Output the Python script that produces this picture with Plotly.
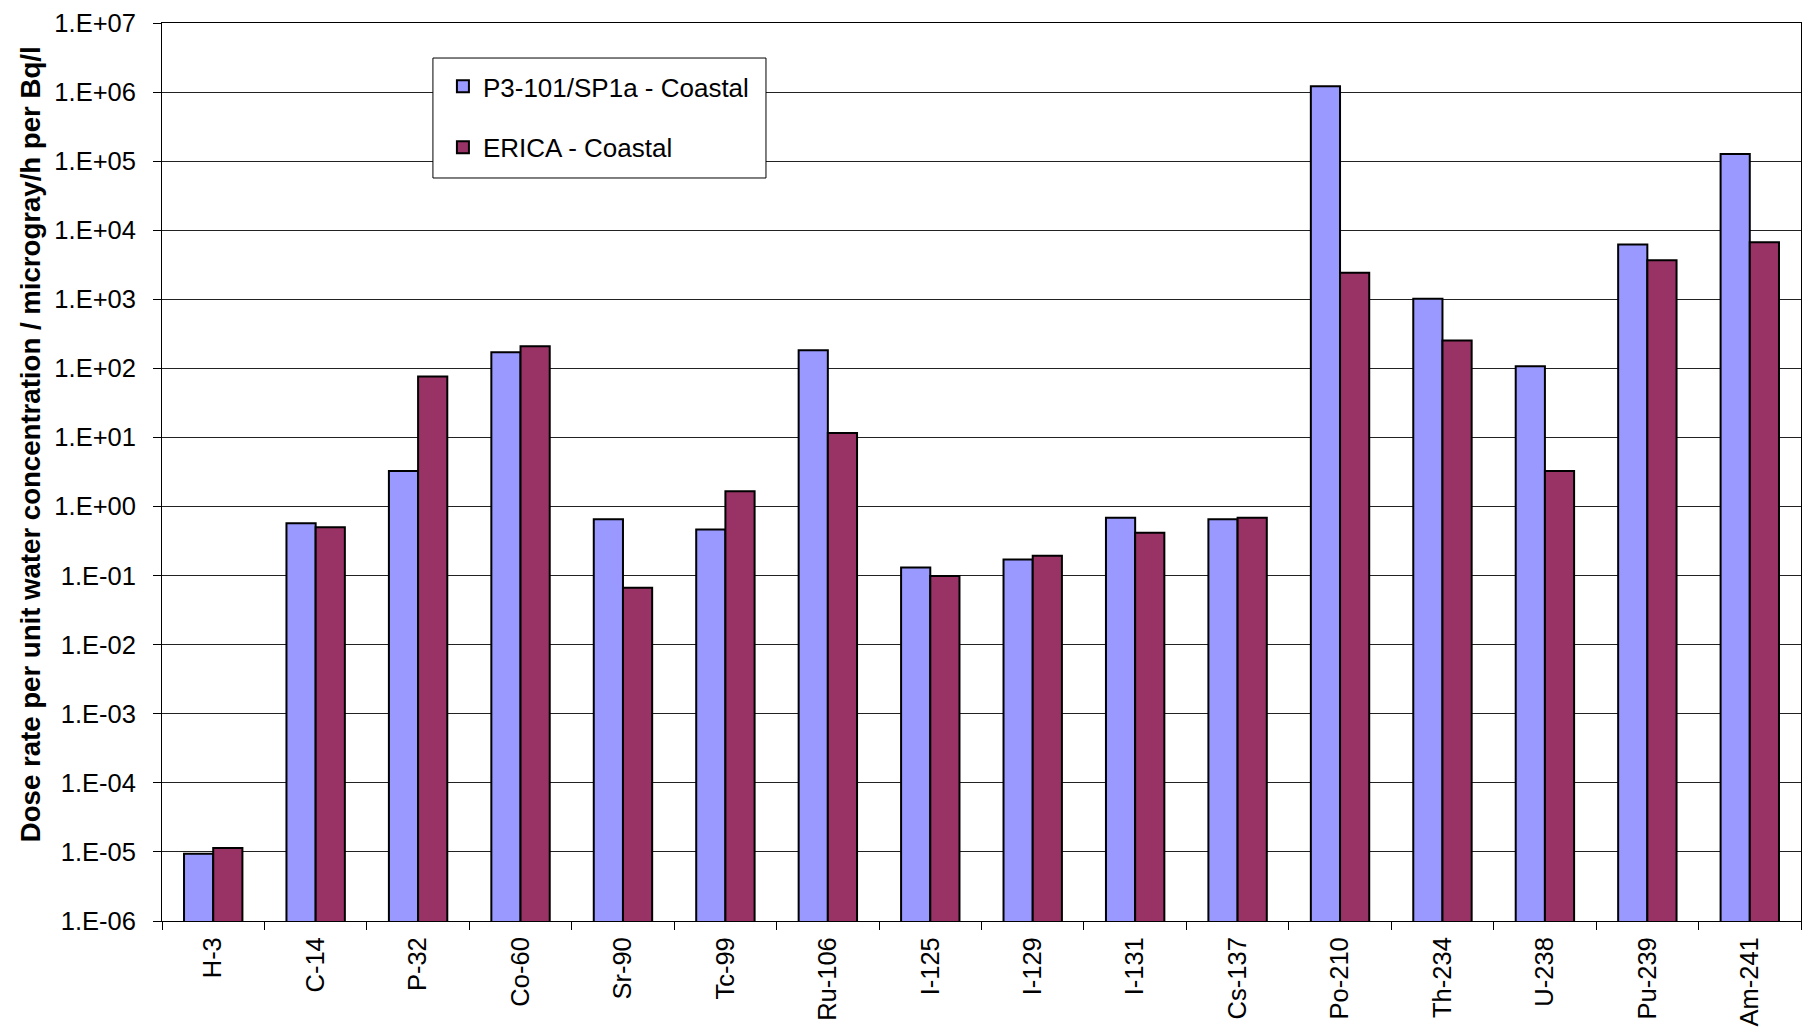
import plotly.graph_objects as go

categories = ["H-3", "C-14", "P-32", "Co-60", "Sr-90", "Tc-99", "Ru-106", "I-125",
              "I-129", "I-131", "Cs-137", "Po-210", "Th-234", "U-238", "Pu-239", "Am-241"]
p3_coastal = [9.4e-6, 0.574, 3.27, 171, 0.656, 0.464, 183, 0.131,
              0.171, 0.69, 0.656, 1.21e6, 1020, 107, 6200, 1.27e5]
erica_coastal = [1.14e-5, 0.50, 76.5, 210, 0.067, 1.66, 11.6, 0.099,
                 0.194, 0.416, 0.69, 2430, 253, 3.27, 3680, 6700]
ytick_vals = [1e-6, 1e-5, 1e-4, 1e-3, 1e-2, 1e-1, 1e0, 1e1, 1e2, 1e3, 1e4, 1e5, 1e6, 1e7]
ytick_text = ["1.E-06", "1.E-05", "1.E-04", "1.E-03", "1.E-02", "1.E-01", "1.E+00",
              "1.E+01", "1.E+02", "1.E+03", "1.E+04", "1.E+05", "1.E+06", "1.E+07"]
y_title = "Dose rate per unit water concentration / microgray/h per Bq/l"

FONT = "Liberation Sans, Arial, sans-serif"

fig = go.Figure()
fig.add_trace(go.Bar(x=categories, y=p3_coastal, name="P3-101/SP1a - Coastal",
                     legendgroup="a",
                     marker=dict(color="#9999FF", line=dict(color="black", width=2))))
fig.add_trace(go.Bar(x=categories, y=erica_coastal, name="ERICA - Coastal",
                     legendgroup="b",
                     marker=dict(color="#993366", line=dict(color="black", width=2))))

# legend frame (white box covering gridlines)
fig.add_shape(type="rect", xref="paper", yref="paper",
              x0=0.1653, x1=0.3685, y0=0.8274, y1=0.961,
              fillcolor="white", line=dict(color="black", width=1), layer="above")

fig.add_annotation(text=y_title, xref="paper", yref="paper",
                   x=-0.0805, y=0.531, xanchor="center", yanchor="middle",
                   textangle=-90, showarrow=False,
                   font=dict(family=FONT, size=27.6, color="black", weight="bold"))

fig.update_layout(
    width=1803, height=1033,
    margin=dict(l=162, r=2, t=23, b=112),
    paper_bgcolor="white", plot_bgcolor="white",
    font=dict(family=FONT, size=25, color="black"),
    barmode="group", bargap=0.43, bargroupgap=0,
    showlegend=True,
    legend=dict(x=0.1714, y=0.9555, xanchor="left", yanchor="top",
                bgcolor="rgba(0,0,0,0)", borderwidth=0,
                font=dict(family=FONT, size=26, color="black"),
                tracegroupgap=24, traceorder="grouped"),
    xaxis=dict(type="category", showline=True, linecolor="black", linewidth=1,
               mirror=True, ticks="outside", tickson="boundaries", ticklen=8,
               tickcolor="black", tickangle=-90, showgrid=False,
               tickfont=dict(family=FONT, size=25.5, color="black"),
               ticklabelstandoff=5),
    yaxis=dict(type="log", range=[-6, 7], showline=True, linecolor="black", linewidth=1,
               mirror=True, ticks="outside", ticklen=8, tickcolor="black",
               tickvals=ytick_vals, ticktext=ytick_text,
               showgrid=True, gridcolor="#222222", gridwidth=1,
               tickfont=dict(family=FONT, size=25.5, color="black"),
               ticklabelstandoff=12),
)

fig.write_html("out.html", config={"displayModeBar": False},
               post_script="document.body.style.margin='0px';document.body.style.overflow='hidden';")
